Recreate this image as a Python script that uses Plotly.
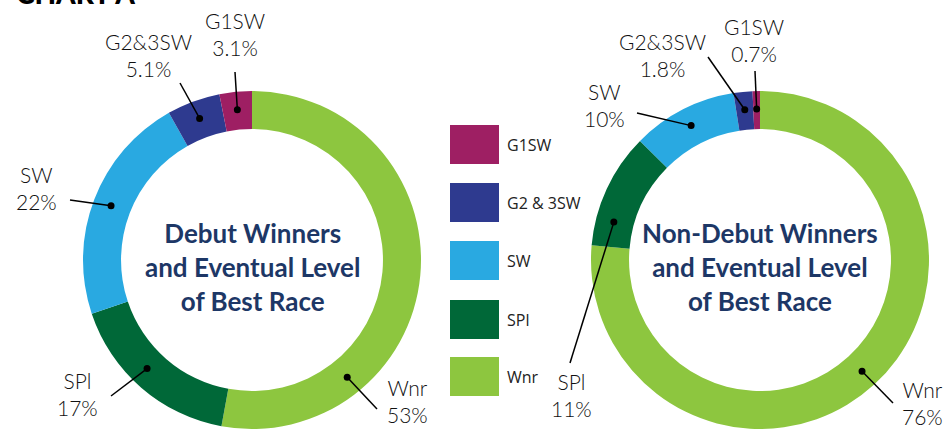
import math
import plotly.graph_objects as go

# ---------------- data ----------------
categories = ["Wnr", "SPl", "SW", "G2&3SW", "G1SW"]
debut_values = [53, 17, 22, 5.1, 3.1]
nondebut_values = [76, 11, 10, 1.8, 0.7]
slice_colors = ["#8DC63F", "#006838", "#29A9E1", "#2E3A8F", "#9E1F63"]
legend_labels = ["G1SW", "G2 & 3SW", "SW", "SPl", "Wnr"]
legend_colors = ["#9E1F63", "#2E3A8F", "#29A9E1", "#006838", "#8DC63F"]
center_titles = ["Debut Winners<br>and Eventual Level<br>of Best Race",
                 "Non-Debut Winners<br>and Eventual Level<br>of Best Race"]
chart_title = "CHART A"

# ---------------- layout constants (pixels) ----------------
W, H = 946, 429
R_OUT = 169
HOLE = 0.775
R_MID = 151
centers = [(252, 260), (760, 260)]
NAVY = "#1D3766"
LABEL_FONT = dict(family="Lato", size=21, color="#111111", weight=300)

# leader spec: category, position inside slice (0..1), label centre, line end
leader_specs = [
    [("G1SW", 0.5, (235, 34), (235, 72)),
     ("G2&3SW", 0.5, (148, 55), (180, 83)),
     ("SW", 0.5, (36, 188), (70, 200)),
     ("SPl", 0.55, (77, 394), (111, 396)),
     ("Wnr", 0.74, (407, 401), (377, 409))],
    [("G1SW", 0.5, (754, 40), (755, 71)),
     ("G2&3SW", 0.5, (662, 55), (708, 57)),
     ("SW", 0.5, (604, 105), (637, 113)),
     ("SPl", 0.24, (571, 395), (570, 363)),
     ("Wnr", 0.5, (922, 403), (893, 403))],
]

fig = go.Figure()
shapes = []
annotations = []

for k, values in enumerate([debut_values, nondebut_values]):
    cx, cy = centers[k]
    fig.add_trace(go.Pie(
        labels=categories, values=values, sort=False, direction="clockwise",
        rotation=0, hole=HOLE, textinfo="none", hoverinfo="label+value",
        marker=dict(colors=slice_colors, line=dict(width=0)),
        showlegend=False,
        domain=dict(x=[(cx - R_OUT) / W, (cx + R_OUT) / W],
                    y=[1 - (cy + R_OUT) / H, 1 - (cy - R_OUT) / H]),
    ))
    total = sum(values)
    starts = {}
    acc = 0
    for c, v in zip(categories, values):
        starts[c] = (acc, v)
        acc += v
    for cat, frac, (lx, ly), (ex, ey) in leader_specs[k]:
        s, v = starts[cat]
        ang = math.radians(360 * (s + v * frac) / total)
        dx = cx + R_MID * math.sin(ang)
        dy = cy - R_MID * math.cos(ang)
        shapes.append(dict(type="line", xref="x", yref="y", x0=ex, y0=ey, x1=dx, y1=dy,
                           line=dict(color="black", width=1.5), layer="above"))
        shapes.append(dict(type="circle", xref="x", yref="y", x0=dx - 3.5, x1=dx + 3.5,
                           y0=dy - 3.5, y1=dy + 3.5, fillcolor="black",
                           line=dict(width=0), layer="above"))
        annotations.append(dict(xref="x", yref="y", x=lx, y=ly, showarrow=False,
                                text=f"{cat}<br>{values[categories.index(cat)]:g}%",
                                font=LABEL_FONT, xanchor="center", yanchor="middle"))
    annotations.append(dict(xref="x", yref="y", x=cx, y=267, showarrow=False,
                            text=center_titles[k],
                            font=dict(family="Lato", size=26, color=NAVY, weight="bold"),
                            xanchor="center", yanchor="middle"))

# legend
leg_tops = [125, 183, 241, 300, 357]
for lab, col, top in zip(legend_labels, legend_colors, leg_tops):
    shapes.append(dict(type="rect", xref="x", yref="y", x0=450, x1=499, y0=top, y1=top + 39,
                       fillcolor=col, line=dict(width=0), layer="above"))
    annotations.append(dict(xref="x", yref="y", x=505, y=top + 19.5, showarrow=False,
                            text=lab, xanchor="left", yanchor="middle",
                            font=dict(family="Open Sans", size=16, color="#222222")))

# partially visible chart title above the top edge
annotations.append(dict(xref="paper", yref="paper", x=14 / W, y=1 + 7 / H, showarrow=False,
                        text=chart_title, xanchor="left", yanchor="middle",
                        font=dict(family="Lato", size=28, color="black", weight=900)))

fig.update_layout(
    width=W, height=H, margin=dict(l=0, r=0, t=0, b=0),
    paper_bgcolor="white", plot_bgcolor="rgba(0,0,0,0)",
    xaxis=dict(range=[0, W], visible=False, domain=[0, 1], fixedrange=True),
    yaxis=dict(range=[H, 0], visible=False, domain=[0, 1], fixedrange=True),
    shapes=shapes, annotations=annotations, showlegend=False,
)

fig.write_html("out.html", config={"displayModeBar": False},
               post_script="document.body.style.margin='0';document.body.style.padding='0';")
